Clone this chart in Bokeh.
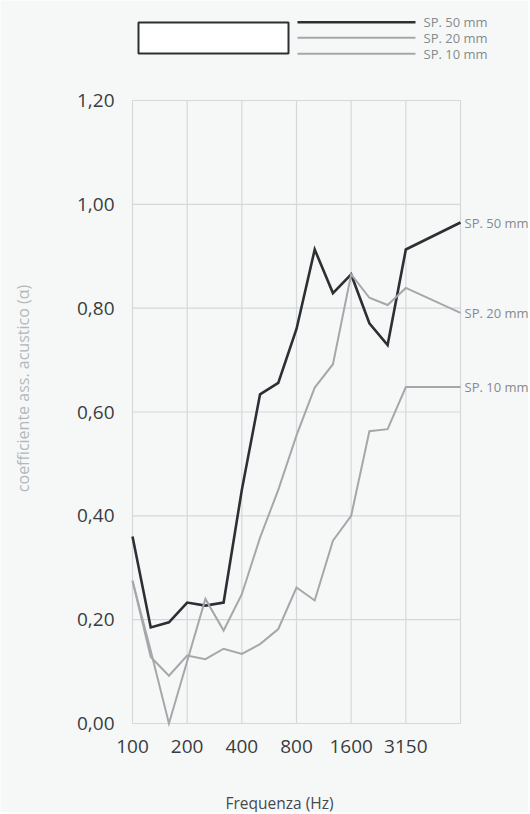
import math
from bokeh.plotting import figure
from bokeh.models import Range1d, FixedTicker, CustomJSTickFormatter
from bokeh.core.properties import value
from bokeh.embed import file_html
from bokeh.resources import INLINE

# ---- data ----
freqs = [100, 125, 160, 200, 250, 315, 400, 500, 630, 800, 1000, 1250, 1600, 2000, 2500, 3150, 6300]
sp50 = [0.36, 0.185, 0.195, 0.233, 0.227, 0.233, 0.45, 0.634, 0.656, 0.76, 0.913, 0.829, 0.865, 0.771, 0.729, 0.913, 0.965]
sp20 = [0.275, 0.14, 0.0, 0.12, 0.24, 0.179, 0.249, 0.358, 0.45, 0.555, 0.647, 0.692, 0.865, 0.82, 0.806, 0.839, 0.791]
sp10 = [0.275, 0.128, 0.092, 0.131, 0.124, 0.144, 0.134, 0.153, 0.182, 0.262, 0.237, 0.352, 0.40, 0.563, 0.567, 0.648, 0.648]
series_names = ["SP. 50 mm", "SP. 20 mm", "SP. 10 mm"]
tick_freqs = [100, 200, 400, 800, 1600, 3150]
y_ticks = [0.0, 0.2, 0.4, 0.6, 0.8, 1.0, 1.2]
x_title = "Frequenza (Hz)"
y_title = "coefficiente ass. acustico (\u03b1)"

BG = "#f6f8f8"
GRID = "#d3d8da"
DARK = "#2c3034"
GREY = "#a4a8ab"
LABEL = "#858a8e"
colors = [DARK, GREY, GREY]
widths = [2.6, 2.0, 2.0]
FONT = "Open Sans"

W, H = 528, 812
# chart area in page pixels
CL, CR, CT, CB = 132, 460, 100, 723


def band_pos(f):
    # third-octave band index relative to 100 Hz
    return round(3 * math.log2(f / 100.0))


xs = [band_pos(f) for f in freqs]
x_last = xs[-1]
y_top = y_ticks[-1]

px_per_x = (CR - CL) / x_last
px_per_y = (CB - CT) / y_top


def hx(px):
    return (px - CL) / px_per_x


def hy(py):
    return (CB - py) / px_per_y


p = figure(width=W, height=H, output_backend="svg", toolbar_location=None,
           x_range=Range1d(hx(0), hx(W)), y_range=Range1d(hy(H), hy(0)),
           min_border=0)
p.background_fill_color = BG
p.border_fill_color = BG
p.outline_line_color = None
p.grid.visible = False

# grid (from the tick arrays)
xt = [band_pos(f) for f in tick_freqs] + [x_last]
p.segment(x0=[0] * len(y_ticks), x1=[x_last] * len(y_ticks), y0=y_ticks, y1=y_ticks,
          line_color=GRID, line_width=1.2)
p.segment(x0=xt, x1=xt, y0=[0] * len(xt), y1=[y_top] * len(xt),
          line_color=GRID, line_width=1.2)

# series
for ys, c, w in zip([sp50, sp20, sp10], colors, widths):
    p.line(xs, ys, line_color=c, line_width=w, line_join="miter")

p.text(x=[x_last] * 3, y=[sp50[-1], sp20[-1], sp10[-1]], text=series_names,
       x_offset=4, text_font=value(FONT), text_font_size="13px",
       text_color=LABEL, text_baseline="middle")

# header key
p.quad(left=hx(138), right=hx(288), top=hy(22), bottom=hy(53), fill_color="#ffffff",
       line_color=DARK, line_width=2)
key_y = [hy(21.7), hy(37.3), hy(53.3)]
p.segment(x0=[hx(297)] * 3, x1=[hx(415)] * 3, y0=key_y, y1=key_y,
          line_color=colors, line_width=widths)
p.text(x=[hx(423)] * 3, y=key_y, text=series_names, text_font=value(FONT),
       text_font_size="13px", text_color=LABEL, text_baseline="middle")

# axis titles
p.text(x=[hx(279)], y=[hy(802)], text=[x_title], text_font=value(FONT),
       text_font_size="15.5px", text_color="#45494c",
       text_align="center", text_baseline="middle")
p.text(x=[hx(22)], y=[hy(388)], text=[y_title], text_font=value(FONT),
       text_font_size="16px", text_color="#b2b8bb", angle=math.pi / 2,
       text_align="center", text_baseline="middle")

# axes (drawn at the chart's origin, inside the canvas)
p.xaxis.fixed_location = 0
p.yaxis.fixed_location = 0
p.xaxis.ticker = FixedTicker(ticks=[band_pos(f) for f in tick_freqs])
p.xaxis.major_label_overrides = {band_pos(f): str(f) for f in tick_freqs}
p.yaxis.ticker = FixedTicker(ticks=y_ticks)
p.yaxis.formatter = CustomJSTickFormatter(code="return tick.toFixed(2).replace('.', ',');")

for ax in [p.xaxis[0], p.yaxis[0]]:
    ax.axis_line_color = None
    ax.major_tick_line_color = None
    ax.minor_tick_line_color = None
    ax.major_label_text_font = FONT
    ax.major_label_text_font_size = "19px"
    ax.major_label_text_color = "#3a3d40"

p.xaxis.major_label_standoff = 10
p.yaxis.major_label_standoff = 12

open("out.html", "w").write(file_html(p, INLINE))
